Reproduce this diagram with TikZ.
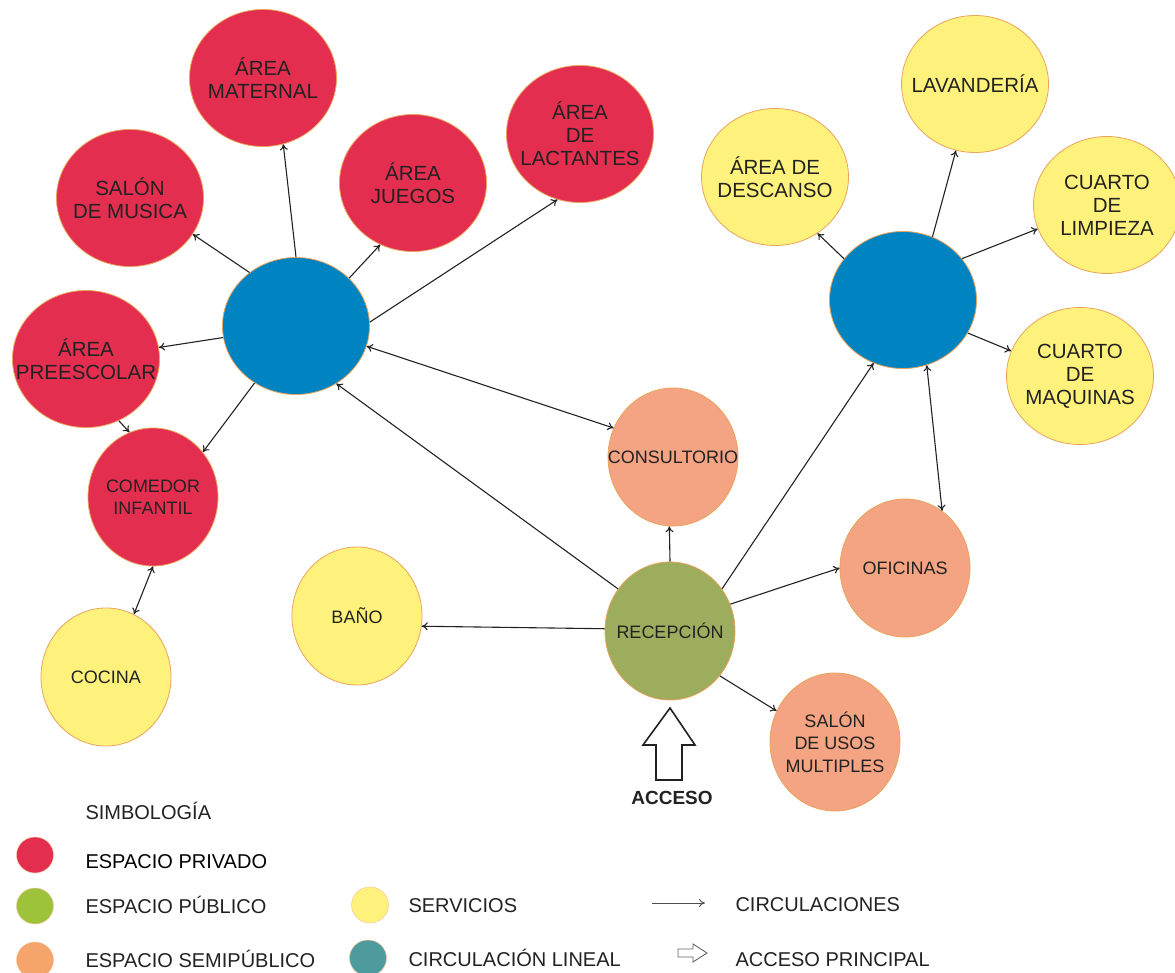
\documentclass[tikz,border=0pt]{standalone}
\usepackage{fontspec}
\setmainfont{Liberation Sans}
\usetikzlibrary{shapes.geometric,arrows.meta}
\definecolor{privado}{HTML}{E42E50}
\definecolor{circula}{HTML}{0083C1}
\definecolor{servicio}{HTML}{FFF27C}
\definecolor{semipub}{HTML}{F4A383}
\definecolor{publico}{HTML}{9CAD5E}
\definecolor{borde}{HTML}{E9A35B}
\definecolor{ink}{HTML}{222222}
\definecolor{lgreen}{HTML}{9DC33B}
\definecolor{lorange}{HTML}{F5A46C}
\definecolor{lteal}{HTML}{4D9B9D}

\begin{document}
\begin{tikzpicture}[x=1pt,y=-1pt,>={To[length=6pt,width=8pt]},
  room/.style={ellipse,draw=borde,line width=0.8pt,inner sep=0pt,
    minimum width=147pt,minimum height=137pt},
  roomsm/.style={room,minimum width=130pt,minimum height=138pt},
  txt/.style={align=center,text=ink,font=\fontsize{20.5}{23}\selectfont},
  txtsm/.style={txt,font=\fontsize{18}{22.5}\selectfont},
  con/.style={->,draw=ink,line width=1.1pt},
  dcon/.style={con,<->},
  dot/.style={ellipse,draw=borde!60,line width=0.5pt,inner sep=0pt,
    minimum width=37pt,minimum height=36pt},
  leg/.style={anchor=base west,text=ink,font=\fontsize{20}{24}\selectfont}]
  \useasboundingbox (0,0) rectangle (1175,973);

  % private spaces round the first circulation core
  \node[room,fill=circula] (nucleo) at (296,326) {};
  \node[room,fill=privado,label={[txt]center:ÁREA\\MATERNAL}] (maternal) at (263,78) {};
  \node[room,fill=privado,label={[txt]center:SALÓN\\DE MUSICA}] (musica) at (130,198) {};
  \node[room,fill=privado,label={[txt]center:ÁREA\\JUEGOS}] (juegos) at (413,183) {};
  \node[room,fill=privado,label={[txt]center:ÁREA\\DE\\LACTANTES}] (lactantes) at (580,134) {};
  \node[room,fill=privado,label={[txt]center:ÁREA\\PREESCOLAR}] (preescolar) at (86,359) {};
  \node[roomsm,fill=privado,label={[txtsm]center:COMEDOR\\INFANTIL}] (comedor) at (153,497) {};
  \node[roomsm,fill=servicio,label={[txtsm]center:COCINA}] (cocina) at (106,677) {};

  % services round the second core
  \node[room,fill=circula] (nucleoser) at (903,300) {};
  \node[room,fill=servicio,label={[txt]center:ÁREA DE\\DESCANSO}] (descanso) at (775,177) {};
  \node[room,fill=servicio,label={[txt]center:LAVANDERÍA}] (lavanderia) at (975,84) {};
  \node[room,fill=servicio,label={[txt]center:CUARTO\\DE\\LIMPIEZA}] (limpieza) at (1107,205) {};
  \node[room,fill=servicio,label={[txt]center:CUARTO\\DE\\MAQUINAS}] (maquinas) at (1080,376) {};

  % public and semi-public spaces
  \node[roomsm,fill=publico,label={[txtsm]center:RECEPCIÓN}] (recepcion) at (670,631) {};
  \node[roomsm,fill=semipub,label={[txtsm]center:CONSULTORIO}] (consultorio) at (673,457) {};
  \node[roomsm,fill=semipub,label={[txtsm]center:OFICINAS}] (oficinas) at (905,568) {};
  \node[roomsm,fill=semipub,label={[txtsm]center:SALÓN\\DE USOS\\MULTIPLES}] (usos) at (835,742) {};
  \node[roomsm,fill=servicio,label={[txtsm]center:BAÑO}] (bano) at (357,616) {};

  % circulations
  \draw[con] (nucleo.131) -- (musica.-30);
  \draw[con] (nucleo.90) -- (maternal.-73);
  \draw[con] (nucleo.42) -- (juegos.-118);
  \draw[con] (nucleo.3) -- (lactantes.-109);
  \draw[con] (nucleo.189) -- (preescolar.9);
  \draw[con] (nucleo.234) -- (comedor.42);
  \draw[con] (preescolar.-62) -- (comedor.110);
  \draw[dcon] (comedor.-90) -- (cocina.66);
  \draw[dcon] (nucleo.-16) -- (consultorio.154);
  \draw[con] (recepcion.141) -- (nucleo.-55);
  \draw[con] (recepcion.90) -- (consultorio.-93);
  \draw[con] (recepcion.178) -- (bano.-9);
  \draw[con] (recepcion.39) -- (nucleoser.-115);
  \draw[con] (recepcion.24) -- (oficinas.180);
  \draw[con] (recepcion.-42) -- (usos.152);
  \draw[dcon] (nucleoser.-70) -- (oficinas.57);
  \draw[con] (nucleoser.145) -- (descanso.-53);
  \draw[con] (nucleoser.65) -- (lavanderia.-106);
  \draw[con] (nucleoser.35) -- (limpieza.-161);
  \draw[con] (nucleoser.-27) -- (maquinas.160);

  % main access
  \draw[line width=1.6pt,draw=ink,fill=white] (670,708) -- (695,745) -- (682,745)
    -- (682,780) -- (656,780) -- (656,745) -- (643,745) -- cycle;
  \node[anchor=base,text=ink,font=\fontsize{19}{22}\selectfont\bfseries] (acceso) at (672,804) {ACCESO};

  % legend
  \node[leg] (simbologia) at (82,819) {SIMBOLOGÍA};
  \node[dot,fill=privado] (dprivado) at (35,855) {};
  \node[leg,text=black] (tprivado) at (82,868) {ESPACIO PRIVADO};
  \node[dot,fill=lgreen] (dpublico) at (35,906) {};
  \node[leg] (tpublico) at (82,913) {ESPACIO PÚBLICO};
  \node[dot,fill=lorange] (dsemi) at (35,960) {};
  \node[leg] (tsemi) at (82,967) {ESPACIO SEMIPÚBLICO};
  \node[dot,fill=servicio] (dservicio) at (370,905) {};
  \node[leg] (tservicio) at (405,912) {SERVICIOS};
  \node[dot,fill=lteal] (dlineal) at (368,958) {};
  \node[leg] (tlineal) at (405,966) {CIRCULACIÓN LINEAL};
  \coordinate (c1) at (652,903);
  \coordinate (c2) at (705,903);
  \draw[->,draw=ink!80,line width=0.9pt] (c1) -- (c2);
  \node[leg] (tcircula) at (732,911) {CIRCULACIONES};
  \draw[draw=ink!70,line width=0.9pt,fill=white] (707,953) -- (693,944) -- (693,949)
    -- (678,949) -- (678,957) -- (693,957) -- (693,962) -- cycle;
  \node[leg] (tacceso) at (732,966) {ACCESO PRINCIPAL};
\end{tikzpicture}
\end{document}
